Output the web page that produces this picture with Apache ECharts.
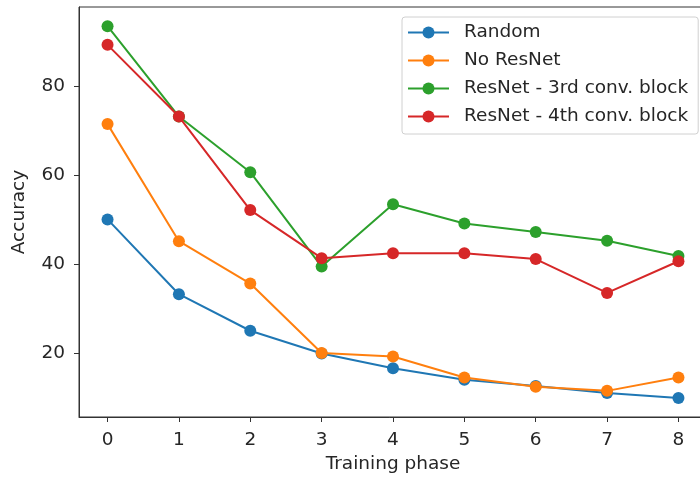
<!DOCTYPE html>
<html>
<head>
<meta charset="utf-8">
<script src="https://cdn.jsdelivr.net/npm/echarts@6/dist/echarts.min.js"></script>
<style>
  html, body { margin: 0; padding: 0; background: #fff; }
  #chart { width: 700px; height: 481px; }
</style>
</head>
<body>
<div id="chart"></div>
<script>
// Training phases on the x axis
const phases = [0, 1, 2, 3, 4, 5, 6, 7, 8];
const xTicks = [0, 1, 2, 3, 4, 5, 6, 7, 8];
const yTicks = [20, 40, 60, 80];

// Accuracy per phase for each setup
const randomAcc   = [50.0, 33.2, 25.0, 19.9, 16.6, 14.0, 12.6, 11.0, 9.9];
const noResNetAcc = [71.4, 45.1, 35.6, 20.0, 19.2, 14.5, 12.4, 11.5, 14.5];
const conv3Acc    = [93.4, 73.1, 60.6, 39.4, 53.4, 49.1, 47.2, 45.2, 41.8];
const conv4Acc    = [89.2, 73.1, 52.1, 41.3, 42.4, 42.4, 41.1, 33.5, 40.6];

const seriesNames = ['Random', 'No ResNet', 'ResNet - 3rd conv. block', 'ResNet - 4th conv. block'];
const seriesColors = ['#1f77b4', '#ff7f0e', '#2ca02c', '#d62728'];
const seriesValues = [randomAcc, noResNetAcc, conv3Acc, conv4Acc];

const FONT = 'DejaVu Sans';
const FS = 18.5;
const TEXT = '#262626';
const AXIS = '#333333';

const chart = echarts.init(document.getElementById('chart'), null, { renderer: 'canvas' });

chart.setOption({
  animation: false,
  backgroundColor: '#ffffff',
  textStyle: { fontFamily: FONT },
  grid: {
    left: 79, top: 7, width: 628, height: 410,
    outerBoundsMode: 'none',
    containLabel: false,
    show: true, borderColor: AXIS, borderWidth: 1, backgroundColor: 'transparent'
  },
  legend: {
    orient: 'vertical',
    left: 402, top: 17,
    padding: [5, 10, 7, 5],
    itemWidth: 41, itemHeight: 15, itemGap: 7,
    backgroundColor: 'rgba(255,255,255,0.85)',
    borderColor: '#d0d0d0', borderWidth: 1, borderRadius: 3,
    textStyle: { fontFamily: FONT, fontSize: FS, color: TEXT, lineHeight: 21, padding: [0, 0, 0, 10] },
    data: seriesNames
  },
  xAxis: {
    type: 'value',
    min: -0.4, max: 8.4,
    name: 'Training phase',
    nameLocation: 'middle',
    nameGap: 38,
    nameTextStyle: { fontFamily: FONT, fontSize: FS, color: TEXT, verticalAlign: 'top' },
    axisLine: { show: true, onZero: false, lineStyle: { color: AXIS, width: 1 } },
    axisTick: { show: true, length: 5, lineStyle: { color: AXIS }, customValues: xTicks },
    axisLabel: { fontFamily: FONT, fontSize: FS, color: TEXT, margin: 14, customValues: xTicks },
    splitLine: { show: false }
  },
  yAxis: {
    type: 'value',
    min: 5.63, max: 97.7,
    name: 'Accuracy',
    nameLocation: 'middle',
    nameGap: 50,
    nameRotate: 90,
    nameTextStyle: { fontFamily: FONT, fontSize: FS, color: TEXT },
    axisLine: { show: true, onZero: false, lineStyle: { color: AXIS, width: 1 } },
    axisTick: { show: true, length: 5, lineStyle: { color: AXIS }, customValues: yTicks },
    axisLabel: { fontFamily: FONT, fontSize: FS, color: TEXT, margin: 14, customValues: yTicks },
    splitLine: { show: false }
  },
  series: seriesNames.map((name, i) => ({
    name: name,
    type: 'line',
    data: phases.map((p, j) => [p, seriesValues[i][j]]),
    color: seriesColors[i],
    symbol: 'circle',
    symbolSize: 12,
    showAllSymbol: true,
    lineStyle: { width: 2, color: seriesColors[i] },
    itemStyle: { color: seriesColors[i] },
    z: 2 + i
  }))
});
</script>
</body>
</html>
